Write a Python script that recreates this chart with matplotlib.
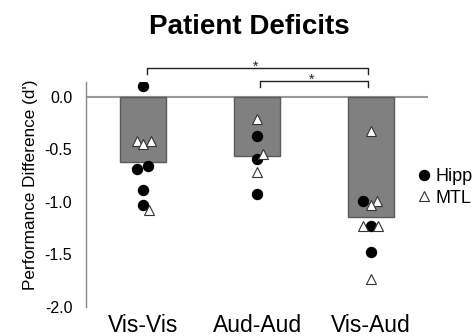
import matplotlib
matplotlib.use("Agg")
import matplotlib.pyplot as plt
from matplotlib.lines import Line2D

plt.rcParams["font.family"] = ["Liberation Sans", "DejaVu Sans"]

conditions = ["Vis-Vis", "Aud-Aud", "Vis-Aud"]
bar_means = [-0.62, -0.56, -1.14]

# individual patients: Hipp (circles) and MTL (triangles), with small x-offsets
hipp_vals = [
    [0.10, -0.66, -0.69, -0.89, -1.03],
    [-0.37, -0.59, -0.92],
    [-0.99, -1.23, -1.48],
]
hipp_offsets = [
    [0.0, 0.04, -0.05, 0.0, 0.0],
    [0.0, 0.0, 0.0],
    [-0.07, 0.0, 0.0],
]
mtl_vals = [
    [-0.42, -0.45, -0.42, -1.08],
    [-0.21, -0.54, -0.71],
    [-0.32, -0.99, -1.03, -1.23, -1.23, -1.73],
]
mtl_offsets = [
    [-0.05, 0.0, 0.07, 0.05],
    [0.0, 0.055, 0.0],
    [0.0, 0.05, 0.0, -0.07, 0.065, 0.0],
]

# significance brackets: (left, right, height, star)
brackets = [(0.03, 1.975, 0.273, "*"), (1.03, 1.975, 0.152, "*")]

fig = plt.figure(figsize=(4.76, 3.36), dpi=100)
ax = fig.add_axes([0.181, 0.0863, 0.718, 0.669])

xs = list(range(len(conditions)))
ax.bar(xs, bar_means, width=0.4, color="#808080", edgecolor="#5a5a5a",
       linewidth=1.0, zorder=2)
ax.axhline(0, color="#999999", linewidth=1.5, zorder=1)

for i in xs:
    ax.plot([i + d for d in hipp_offsets[i]], hipp_vals[i], "o", color="black",
            markersize=7.2, linestyle="none", zorder=3)
    ax.plot([i + d for d in mtl_offsets[i]], mtl_vals[i], "^", markerfacecolor="white",
            markeredgecolor="#333333", markeredgewidth=0.8, markersize=7.8,
            linestyle="none", zorder=4)

for left, right, h, star in brackets:
    ax.plot([left, left, right, right], [h - 0.055, h, h, h - 0.055],
            color="#222222", linewidth=1.0, clip_on=False)
    ax.text((left + right) / 2 - 0.02, h + 0.012, star, ha="center", va="center",
            fontsize=10, color="#222222", clip_on=False)

ax.set_xlim(-0.5, 2.5)
ax.set_ylim(-2.0, 0.14)
ax.set_yticks([0.0, -0.5, -1.0, -1.5, -2.0])
ax.set_yticklabels(["0.0", "-0.5", "-1.0", "-1.5", "-2.0"], fontsize=11.5)
ax.set_xticks(xs)
ax.set_xticklabels(conditions, fontsize=16.5)
ax.tick_params(axis="y", length=0, pad=10)
ax.tick_params(axis="x", length=0, pad=5)
for side in ["top", "right", "bottom"]:
    ax.spines[side].set_visible(False)
ax.spines["left"].set_color("#888888")
ax.spines["left"].set_linewidth(1.0)
ax.set_ylabel("Performance Difference (d')", fontsize=12.3)
ax.yaxis.set_label_coords(-0.14, 0.543)

handles = [
    Line2D([], [], marker="o", color="black", linestyle="none", markersize=7.2),
    Line2D([], [], marker="^", markerfacecolor="white", markeredgecolor="#333333",
           markeredgewidth=0.8, linestyle="none", markersize=7.8),
]
fig.legend(handles, ["Hipp", "MTL"], loc="upper left", bbox_to_anchor=(0.88, 0.5),
           frameon=False, fontsize=13, handlelength=0.6, handletextpad=0.3,
           borderpad=0, borderaxespad=0, labelspacing=0.25)

fig.text(0.523, 0.92, "Patient Deficits", ha="center", va="center",
         fontsize=20, fontweight="bold")

fig.savefig("out.png", dpi=100)
